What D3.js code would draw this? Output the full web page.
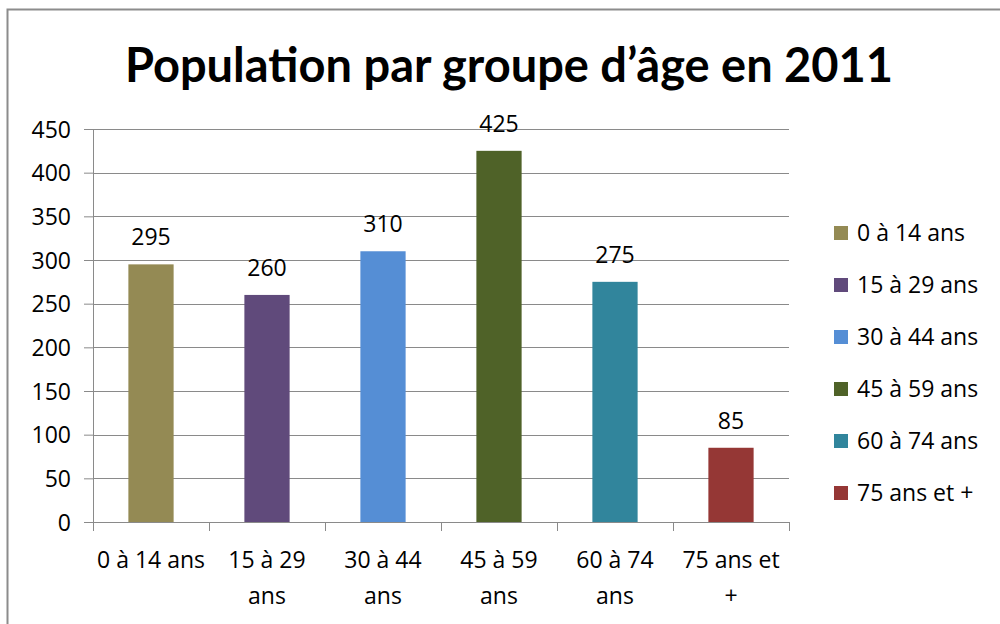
<!DOCTYPE html>
<html>
<head>
<meta charset="utf-8">
<script src="https://cdn.jsdelivr.net/npm/d3@7"></script>
<style>
  body { margin: 0; background: #fff; }
  text { font-family: "Open Sans", "Noto Sans", sans-serif; fill: #000; }
</style>
</head>
<body>
<div id="chart"></div>
<script>
// chart data
const categories = ["0 à 14 ans", "15 à 29 ans", "30 à 44 ans", "45 à 59 ans", "60 à 74 ans", "75 ans et +"];
const values = [295, 260, 310, 425, 275, 85];
const colors = ["#948a54", "#604a7b", "#558ed5", "#4f6228", "#31859c", "#953735"];
const yTicks = [0, 50, 100, 150, 200, 250, 300, 350, 400, 450];
// x tick labels as they wrap in the original
const xTickLines = [["0 à 14 ans"], ["15 à 29", "ans"], ["30 à 44", "ans"], ["45 à 59", "ans"], ["60 à 74", "ans"], ["75 ans et", "+"]];
const title = "Population par groupe d’âge en 2011";

const svgWidth = 1000;
const svgHeight = 624;
const fontSize = "23px";

const margin = { top: 129, right: 211, bottom: 102, left: 93 };
const chartWidth = svgWidth - margin.left - margin.right;
const chartHeight = svgHeight - margin.top - margin.bottom;

var svg = d3.select("#chart")
    .append("svg")
    .attr("width", svgWidth)
    .attr("height", svgHeight);

// outer frame
svg.append("rect")
    .attr("x", 7.5)
    .attr("y", 9.5)
    .attr("width", 1000)
    .attr("height", 640)
    .attr("fill", "none")
    .attr("stroke", "#8c8c8c")
    .attr("stroke-width", 2);

// title
svg.append("text")
    .attr("x", 509)
    .attr("y", 82)
    .attr("text-anchor", "middle")
    .style("font-family", "Lato, 'Open Sans', sans-serif")
    .style("font-weight", "bold")
    .style("font-size", "47px")
    .text(title);

var chartGroup = svg.append("g")
    .attr("transform", `translate(${margin.left}, ${margin.top})`);

var xScale = d3.scaleBand()
    .domain(categories)
    .range([0, chartWidth])
    .paddingInner(0.61)
    .paddingOuter(0.305);

var yScale = d3.scaleLinear()
    .domain([0, 450])
    .range([chartHeight, 0]);

// gridlines
chartGroup.append("g")
    .selectAll("line")
    .data(yTicks.slice(1))
    .enter()
    .append("line")
    .attr("x1", 0)
    .attr("x2", chartWidth)
    .attr("y1", d => Math.round(yScale(d)) + 0.5)
    .attr("y2", d => Math.round(yScale(d)) + 0.5)
    .attr("stroke", "#8a8a8a")
    .attr("stroke-width", 1);

// y axis
var leftAxis = d3.axisLeft(yScale)
    .tickValues(yTicks)
    .tickSize(9)
    .tickPadding(13)
    .tickSizeOuter(0);

var yAxis = chartGroup.append("g")
    .call(leftAxis);
yAxis.select(".domain").attr("stroke", "#8a8a8a");
yAxis.selectAll(".tick line").attr("stroke", "#8a8a8a");
yAxis.selectAll(".tick text")
    .style("font-size", fontSize)
    .attr("dy", "0.36em");

// x axis line + category boundary ticks
var xAxis = chartGroup.append("g")
    .attr("transform", `translate(0, ${chartHeight})`);
xAxis.append("line")
    .attr("x1", -9)
    .attr("x2", chartWidth)
    .attr("y1", 0.5)
    .attr("y2", 0.5)
    .attr("stroke", "#8a8a8a");
var step = xScale.step();
xAxis.selectAll(".xtick")
    .data(d3.range(categories.length + 1))
    .enter()
    .append("line")
    .attr("class", "xtick")
    .attr("x1", i => Math.round(i * step) + 0.5)
    .attr("x2", i => Math.round(i * step) + 0.5)
    .attr("y1", 0)
    .attr("y2", 9)
    .attr("stroke", "#8a8a8a");

// x labels
var xLabels = xAxis.selectAll(".xlabel")
    .data(categories)
    .enter()
    .append("text")
    .attr("class", "xlabel")
    .attr("text-anchor", "middle")
    .style("font-size", fontSize)
    .attr("transform", d => `translate(${xScale(d) + xScale.bandwidth() / 2}, 46)`);
xLabels.selectAll("tspan")
    .data((d, i) => xTickLines[i])
    .enter()
    .append("tspan")
    .attr("x", 0)
    .attr("y", (d, i) => i * 36)
    .text(d => d);

// bars
chartGroup.selectAll(".bar")
    .data(values)
    .enter()
    .append("rect")
    .attr("class", "bar")
    .attr("x", (d, i) => xScale(categories[i]))
    .attr("y", d => yScale(d))
    .attr("width", xScale.bandwidth())
    .attr("height", d => chartHeight - yScale(d))
    .attr("fill", (d, i) => colors[i]);

// value labels
chartGroup.selectAll(".val")
    .data(values)
    .enter()
    .append("text")
    .attr("class", "val")
    .attr("text-anchor", "middle")
    .attr("x", (d, i) => xScale(categories[i]) + xScale.bandwidth() / 2)
    .attr("y", d => yScale(d) - 19)
    .style("font-size", fontSize)
    .text(d => d);

// legend
var legend = svg.append("g")
    .attr("transform", "translate(834, 233)");
var items = legend.selectAll("g")
    .data(categories)
    .enter()
    .append("g")
    .attr("transform", (d, i) => `translate(0, ${i * 52})`);
items.append("rect")
    .attr("x", 0)
    .attr("y", -7)
    .attr("width", 14)
    .attr("height", 14)
    .attr("fill", (d, i) => colors[i]);
items.append("text")
    .attr("x", 23)
    .attr("y", 8)
    .style("font-size", fontSize)
    .text(d => d);
</script>
</body>
</html>
